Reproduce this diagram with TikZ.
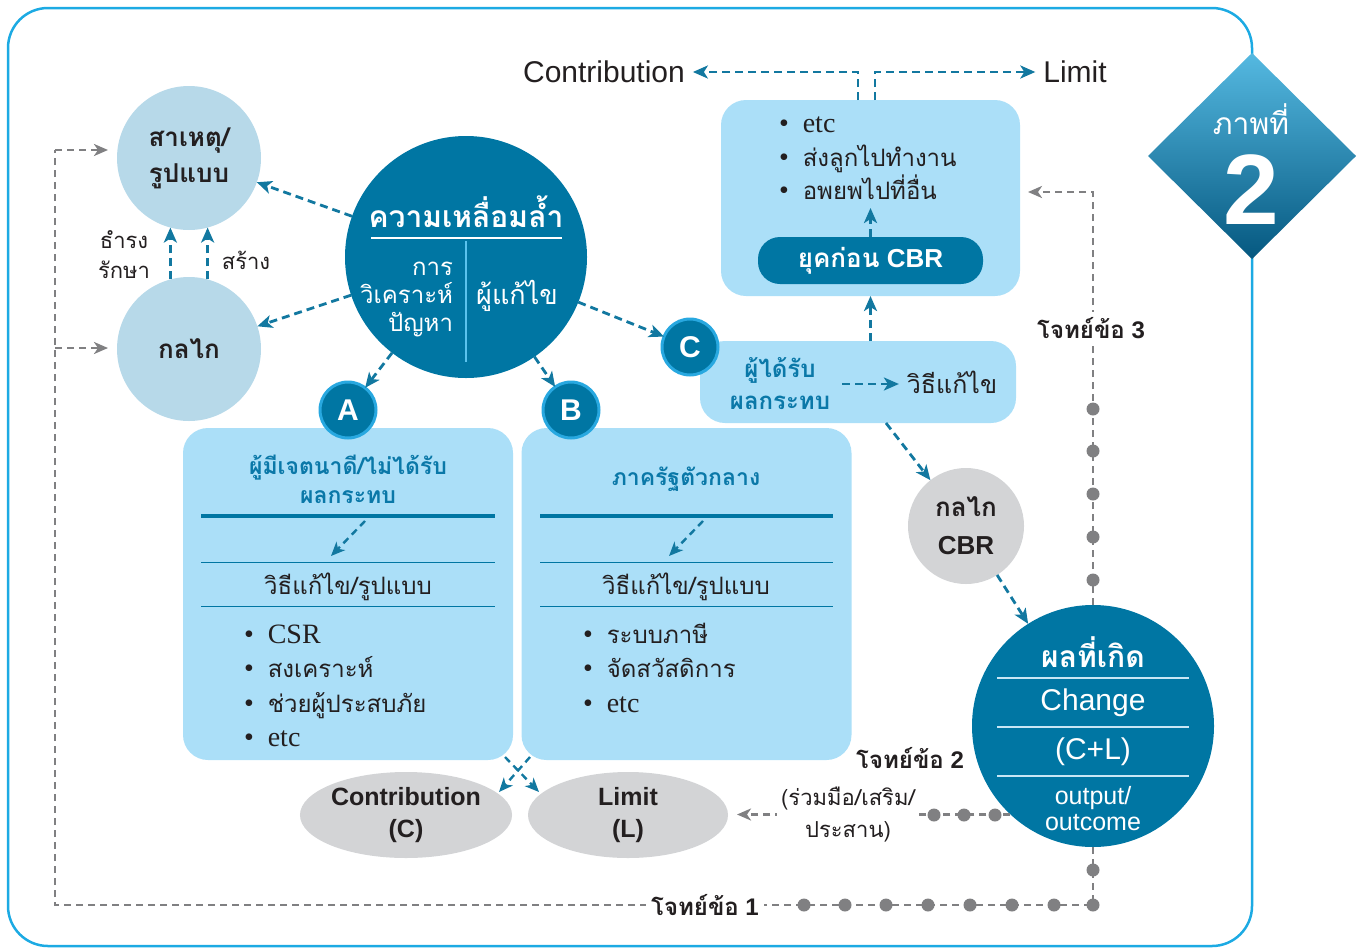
\documentclass[tikz,border=0pt]{standalone}
\usepackage{fontspec}
\setmainfont{Liberation Sans}
\newfontfamily\thai[Script=Thai]{Loma}
\newfontfamily\serif{Liberation Serif}
\usetikzlibrary{arrows.meta,calc,shapes.geometric}
\definecolor{cDark}{RGB}{0,118,163}
\definecolor{cBox}{RGB}{171,223,248}
\definecolor{cCirc}{RGB}{183,217,233}
\definecolor{cGreyC}{RGB}{211,212,214}
\definecolor{cArrow}{RGB}{18,120,160}
\definecolor{cFrame}{RGB}{28,170,227}
\definecolor{cGL}{RGB}{128,128,130}
\definecolor{cTeal}{RGB}{10,120,168}
\definecolor{cBadge}{RGB}{40,168,224}
\definecolor{cDiaTop}{RGB}{85,185,225}
\definecolor{cDiaMid}{RGB}{8,125,170}
\definecolor{cDiaBot}{RGB}{5,88,128}
\definecolor{cVline}{RGB}{90,195,238}
\definecolor{cTxt}{RGB}{35,31,32}
\definecolor{cOline}{RGB}{200,230,245}
\newcommand\fsz[2]{\fontsize{#1pt}{#2pt}\selectfont}
\newcommand\bul{{\serif\fsz{28}{30}•}\hspace{14pt}}
\newcommand\sr[1]{{\serif\fsz{28}{30}#1}}
\begin{document}
\begin{tikzpicture}[x=1pt,y=-1pt,
  every node/.style={inner sep=0pt,outer sep=0pt,text=cTxt},
  tarrow/.style={draw=cArrow,line width=2.8pt,dash pattern=on 8pt off 5pt,-{Stealth[length=15pt,width=13pt,inset=4pt]}},
  sarrow/.style={draw=cArrow,line width=2.4pt,dash pattern=on 7pt off 5pt,-{Stealth[length=14pt,width=12pt,inset=4pt]}},
  garrow/.style={draw=cGL,line width=2.5pt,dash pattern=on 7pt off 5pt,-{Stealth[length=14pt,width=12pt,inset=4pt]}},
  gline/.style={draw=cGL,line width=2.5pt,dash pattern=on 7pt off 5pt},
  lcirc/.style={circle,fill=cCirc,minimum size=144pt,align=center,font=\thai\bfseries\fsz{26}{36}},
  dcirc/.style={circle,fill=cDark,minimum size=242pt},
  lbox/.style={rectangle,rounded corners=25pt,fill=cBox},
  badge/.style={circle,fill=cDark,draw=cBadge,line width=3pt,minimum size=56pt,text=white,font=\bfseries\fsz{30}{30}},
  gell/.style={ellipse,fill=cGreyC,minimum width=200pt,minimum height=86pt,align=center,font=\bfseries\fsz{25}{32}},
  wtxt/.style={text=white,align=center},
  btitle/.style={anchor=base,text=cTeal,font=\thai\bfseries\fsz{23}{30}},
  bbody/.style={anchor=base west,font=\thai\fsz{24}{30}},
  qlabel/.style={fill=white,inner sep=5pt,font=\bfseries\fsz{24}{28}},
  dot/.style={fill=cGL}
]
\useasboundingbox (0,0) rectangle (1362,948);
% frame
\draw[cFrame,line width=2.5pt,rounded corners=40pt] (8,8) rectangle (1252,946);
% diamond
\shade[top color=cDiaTop,middle color=cDiaMid,bottom color=cDiaBot] (1252,53) -- (1356,156) -- (1252,259) -- (1148,156) -- cycle;
\node[wtxt,font=\thai\fsz{30}{32}] (dTitle) at (1251,119) {ภาพที่};
\node[wtxt,font=\bfseries\fsz{100}{100}] (dNum) at (1251,190) {2};

% left circles
\node[lcirc] (cause) at (189,158) {สาเหตุ/\\รูปแบบ};
\node[lcirc] (mech) at (189,349) {กลไก};
\node[font=\thai\fsz{22}{30},align=center] (keep) at (124,255) {ธำรง\\รักษา};
\node[font=\thai\fsz{22}{30}] (build) at (246,260) {สร้าง};

% central circle
\node[dcirc] (ineq) at (466,257) {};
\node[wtxt,font=\thai\bfseries\fsz{30}{34}] (ineqT) at (466,212) {ความเหลื่อมล้ำ};
\draw[white,line width=2.5pt] (371,238) -- (562,238);
\draw[cVline,line width=2pt] (466,241) -- (466,362);
\node[anchor=east,text=white,align=right,font=\thai\fsz{24}{28}] (ineqL) at (453,299) {การ\\วิเคราะห์\\ปัญหา};
\node[wtxt,font=\thai\fsz{27}{30}] (ineqR) at (517,296) {ผู้แก้ไข};

% box A
\node[lbox,minimum width=330pt,minimum height=332pt] (boxA) at (348,594) {};
\node[btitle] (aT1) at (348,474) {ผู้มีเจตนาดี/ไม่ได้รับ};
\node[btitle] (aT2) at (348,503) {ผลกระทบ};
\draw[cDark,line width=3.5pt] (201,516) -- (495,516);
\draw[cDark,line width=1pt] (201,562) -- (495,562);
\draw[cDark,line width=1pt] (201,606) -- (495,606);
\coordinate (aArr1) at (365,521);
\coordinate (aArr2) at (331,556);
\draw[sarrow] (aArr1) -- (aArr2);
\node[anchor=base,font=\thai\fsz{24}{30}] (aSol) at (348,594) {วิธีแก้ไข/รูปแบบ};
\node[bbody] (a1) at (244,643) {\bul\sr{CSR}};
\node[bbody] (a2) at (244,677) {\bul สงเคราะห์};
\node[bbody] (a3) at (244,712) {\bul ช่วยผู้ประสบภัย};
\node[bbody] (a4) at (244,746) {\bul\sr{etc}};

% box B
\node[lbox,minimum width=330pt,minimum height=332pt] (boxB) at (686.5,594) {};
\node[btitle] (bT1) at (686,485) {ภาครัฐตัวกลาง};
\draw[cDark,line width=3.5pt] (540,516) -- (833,516);
\draw[cDark,line width=1pt] (540,562) -- (833,562);
\draw[cDark,line width=1pt] (540,606) -- (833,606);
\coordinate (bArr1) at (703,521);
\coordinate (bArr2) at (669,556);
\draw[sarrow] (bArr1) -- (bArr2);
\node[anchor=base,font=\thai\fsz{24}{30}] (bSol) at (686,594) {วิธีแก้ไข/รูปแบบ};
\node[bbody] (b1) at (583,643) {\bul ระบบภาษี};
\node[bbody] (b2) at (583,677) {\bul จัดสวัสดิการ};
\node[bbody] (b3) at (583,712) {\bul\sr{etc}};

% top box
\node[lbox,minimum width=299pt,minimum height=196pt] (topbox) at (870.5,198) {};
\node[bbody] (t1) at (779,132) {\bul\sr{etc}};
\node[bbody] (t2) at (779,166) {\bul ส่งลูกไปทำงาน};
\node[bbody] (t3) at (779,199) {\bul อพยพไปที่อื่น};
\node[rectangle,rounded corners=22pt,fill=cDark,minimum width=225pt,minimum height=47pt,text=white,font=\bfseries\fsz{26}{30}] (preCBR) at (870.5,260.5) {{\thai ยุคก่อน} CBR};
\coordinate (arrTop) at (870.5,208);
\node[font=\fsz{30}{32},inner xsep=8pt] (contribTop) at (604,72) {Contribution};
\node[font=\fsz{30}{32},inner xsep=8pt] (limitTop) at (1075,72) {Limit};

% C box
\node[lbox,minimum width=316pt,minimum height=82pt] (Cbox) at (858,382) {};
\node[text=cTeal,align=center,font=\thai\bfseries\fsz{24}{32}] (cAff) at (780,384) {ผู้ได้รับ\\ผลกระทบ};
\node[font=\thai\fsz{25}{30}] (cSol) at (952,382) {วิธีแก้ไข};

% badges
\node[badge] (badgeA) at (348,410) {A};
\node[badge] (badgeB) at (571,410) {B};
\node[badge] (badgeC) at (690,347) {C};

% CBR circle
\node[circle,fill=cGreyC,minimum size=116pt,align=center,font=\bfseries\fsz{26}{38}] (cbr) at (966,526) {{\thai กลไก}\\CBR};

% outcome circle
\node[dcirc] (outcome) at (1093,726) {};
\node[wtxt,font=\thai\bfseries\fsz{30}{34}] (oT) at (1093,652) {ผลที่เกิด};
\draw[cOline,line width=1.5pt] (997,678) -- (1189,678);
\draw[cOline,line width=1.5pt] (997,727) -- (1189,727);
\draw[cOline,line width=1.5pt] (997,776) -- (1189,776);
\node[wtxt,font=\fsz{30}{32}] (oC) at (1093,703) {Change};
\node[wtxt,font=\fsz{30}{32}] (oCL) at (1093,752) {(C+L)};
\node[wtxt,font=\fsz{25}{26}] (oO) at (1093,809) {output/\\outcome};

% ellipses
\node[gell] (contrib) at (406,815) {Contribution\\(C)};
\node[gell] (limit) at (628,815) {Limit\\(L)};

% grey loops
\coordinate (L1) at (55,905);
\coordinate (L2) at (55,150);
\coordinate (L3) at (55,348);
\draw[gline] (outcome.south) |- (L1) -- (L2);
\draw[garrow,shorten >=9pt] (L2) -- (L2 -| cause.west);
\draw[garrow,shorten >=9pt] (L3) -- (L3 -| mech.west);
\node[qlabel] (q1) at (705,905) {{\thai โจทย์ข้อ} 1};
\foreach \x in {804,845,886,928,970,1012,1054,1093} \fill[dot] (\x,905) circle (6.5pt);
\fill[dot] (1093,870) circle (6.5pt);

\coordinate (Q3) at (1093,192);
\draw[garrow,shorten >=8pt] (outcome.north) -- (Q3) -- (Q3 -| topbox.east);
\node[qlabel] (q3) at (1091,328) {{\thai โจทย์ข้อ} 3};
\foreach \y in {409,451,494,537,580} \fill[dot] (1093,\y) circle (6.5pt);

\draw[garrow,shorten >=9pt] (outcome.227.35) -- (outcome.227.35 -| limit.east);
\node[fill=white,inner sep=4pt,align=center,font=\thai\fsz{22}{32}] (coop) at (848,815) {(ร่วมมือ/เสริม/\\ประสาน)};
\foreach \x in {934,964,995} \fill[dot] (\x,815) circle (6.5pt);
\node[font=\bfseries\fsz{24}{28}] (q2) at (910,758) {{\thai โจทย์ข้อ} 2};

% teal arrows
\draw[tarrow] (ineq) -- (cause);
\draw[tarrow] (ineq) -- (mech);
\draw[tarrow] (ineq) -- (badgeA);
\draw[tarrow] (ineq) -- (badgeB);
\draw[tarrow] (ineq) -- (badgeC);
\draw[tarrow] (mech.105) -- (cause.255);
\draw[tarrow] (mech.75) -- (cause.285);
\draw[tarrow] ([xshift=-12.5pt]topbox.north) |- (contribTop);
\draw[tarrow] ([xshift=4.5pt]topbox.north) |- (limitTop);
\draw[tarrow] (preCBR.north) -- (arrTop);
\draw[tarrow] (topbox.south |- Cbox.north) -- (topbox.south);
\draw[tarrow,shorten <=12pt,shorten >=8pt] (cAff.east) -- (cAff.east -| cSol.west);
\draw[tarrow] ([xshift=28pt]Cbox.south) -- (cbr);
\draw[tarrow] (cbr) -- (outcome);
\coordinate (xa1) at (505,757);
\coordinate (xa2) at (539,792);
\coordinate (xb1) at (530,757);
\coordinate (xb2) at (499,792);
\draw[sarrow] (xa1) -- (xa2);
\draw[sarrow] (xb1) -- (xb2);
\end{tikzpicture}
\end{document}
